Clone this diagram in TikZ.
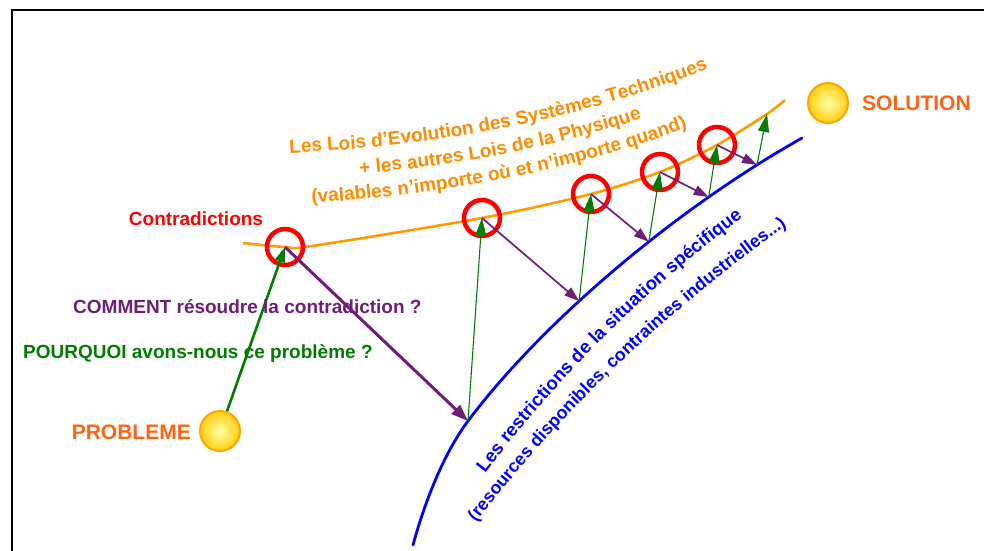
\documentclass[tikz,border=0pt]{standalone}
\usepackage{fontspec}
\setmainfont{Liberation Sans}
\usetikzlibrary{arrows.meta,decorations.text}

\definecolor{laworange}{RGB}{255,155,0}
\definecolor{lawtext}{RGB}{255,140,0}
\definecolor{ringred}{RGB}{255,0,0}
\definecolor{limitblue}{RGB}{0,0,255}
\definecolor{whygreen}{RGB}{0,125,0}
\definecolor{howpurple}{RGB}{110,30,120}
\definecolor{endorange}{RGB}{255,100,20}
\definecolor{sunrim}{RGB}{255,165,0}
\definecolor{suncore}{RGB}{255,255,160}
\definecolor{sunedge}{RGB}{255,205,20}

\begin{document}
\begin{tikzpicture}[x=1pt,y=-1pt,
  ring/.style={circle, draw=ringred, line width=4.5pt, minimum size=36pt, inner sep=0pt},
  sun/.style={circle, draw=sunrim, line width=2pt, minimum size=40pt, inner sep=0pt,
    inner color=suncore, outer color=sunedge},
  lbl/.style={inner sep=0pt, font=\fontsize{19}{22}\selectfont\bfseries},
  endlbl/.style={inner sep=0pt, text=endorange, font=\fontsize{21}{24}\selectfont\bfseries},
  lawline/.style={draw=laworange, line width=2.6pt},
  limitline/.style={draw=limitblue, line width=2.8pt, line cap=round},
  whythick/.style={draw=whygreen, line width=2.6pt, -{Triangle[length=15pt,width=10pt]}},
  whythin/.style={draw=whygreen, line width=1.1pt, -{Triangle[length=18pt,width=11pt]}},
  howthick/.style={draw=howpurple, line width=3pt, -{Triangle[length=17pt,width=12pt]}},
  howthin/.style={draw=howpurple, line width=1.7pt, -{Triangle[length=15pt,width=10pt]}},
  lawtextstyle/.style={decorate, decoration={text along path, text align=center,
    text color=lawtext, text={|\fontsize{19}{20}\selectfont\bfseries|#1}}},
  limittextstyle/.style 2 args={decorate, decoration={text along path, text align=center,
    text color=limitblue, text={|\fontsize{#1}{20}\selectfont\bfseries|#2}}}
]
\useasboundingbox (0,0) rectangle (984,550);
\fill[white] (0,0) rectangle (984,550);

% frame
\draw[line width=2pt] (12,552) -- (12,10) -- (985,10);

% points on the curve of the laws (contradictions)
\coordinate (o0) at (243,243);
\coordinate (c1) at (285,247);
\coordinate (o1) at (312,246);
\coordinate (c2) at (482,218);
\coordinate (c3) at (591,194);
\coordinate (c4) at (660,172);
\coordinate (c5) at (717,145);
\coordinate (c6) at (767,114);
\coordinate (o2) at (785,100);

% curve of the laws
\draw[lawline] plot[smooth, tension=0.5] coordinates {(o0) (c1) (o1) (c2) (c3) (c4) (c5) (c6) (o2)};

% curve of the restrictions, with the landing points of each step
\coordinate (b0) at (413,545);
\coordinate (b1) at (468,421);
\coordinate (b6) at (802,138);
\draw[limitline] (b0) .. controls (425,501) and (444,453) .. (b1)
  .. controls (540,325) and (671.5,211.5) .. (b6)
  coordinate[pos=0.4] (b2) coordinate[pos=0.6] (b3)
  coordinate[pos=0.76] (b4) coordinate[pos=0.885] (b5);

% contradiction rings
\node[ring] (r1) at (c1) {};
\node[ring] (r2) at (c2) {};
\node[ring] (r3) at (c3) {};
\node[ring] (r4) at (c4) {};
\node[ring] (r5) at (c5) {};

% start and end
\node[sun] (psun) at (220,431) {};
\node[sun] (ssun) at (828,103) {};
\node[endlbl, anchor=east] (probtxt) at (191,432) {PROBLEME};
\node[endlbl, anchor=west] (soltxt) at (862,103) {SOLUTION};

% why / how steps
\draw[whythick] (psun) -- (r1.center);
\draw[howthick] (r1.center) -- (b1);
\draw[whythin] (b1) -- (r2.center);
\draw[howthin] (r2.center) -- (b2);
\draw[whythin] (b2) -- (r3.center);
\draw[howthin] (r3.center) -- (b3);
\draw[whythin] (b3) -- (r4.center);
\draw[howthin] (r4.center) -- (b4);
\draw[whythin] (b4) -- (r5.center);
\draw[howthin] (r5.center) -- (b5);
\draw[whythin] (b5) -- (c6);

% labels
\node[lbl, text=ringred] (contra) at (196,219) {Contradictions};
\node[lbl, text=howpurple, anchor=west] (how) at (73,307) {COMMENT résoudre la contradiction ?};
\node[lbl, text=whygreen, anchor=west] (why) at (23,353) {POURQUOI avons-nous ce problème ?};

% laws, written along the upper curve
\path[lawtextstyle={Les Lois d'Evolution des Systèmes Techniques}]
  (253,155) -- (293,153) .. controls (449,145) and (586,117) .. (705,70) -- (742,55);
\path[shift={(0,26)}, lawtextstyle={+ les autres Lois de la Physique}]
  (253,155) -- (293,153) .. controls (449,145) and (586,117) .. (705,70) -- (742,55);
\path[shift={(0,51)}, lawtextstyle={(valables n'importe où et n'importe quand)}]
  (253,155) -- (293,153) .. controls (449,145) and (586,117) .. (705,70) -- (742,55);

% restrictions, written along the lower curve
\path[limittextstyle={18.5}{Les restrictions de la situation spécifique}]
  (456,512) -- (480,480) .. controls (560,374) and (650,285) .. (750,212) -- (782,189);
\path[limittextstyle={17.8}{(resources disponibles, contraintes industrielles...)}]
  (448,560) -- (472,528) .. controls (559,413) and (666,311) .. (792,222) -- (825,199);
\end{tikzpicture}
\end{document}
